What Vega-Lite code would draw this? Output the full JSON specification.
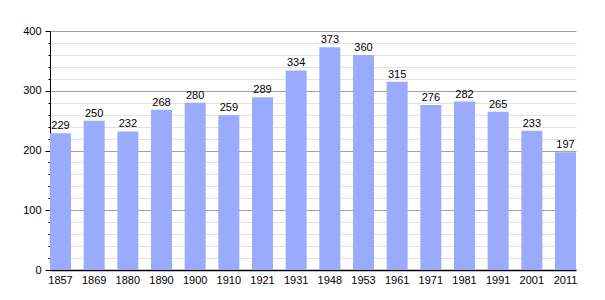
{
  "$schema": "https://vega.github.io/schema/vega-lite/v6.json",
  "autosize": "none",
  "width": 526,
  "height": 239,
  "padding": {"left": 50, "top": 31, "right": 29, "bottom": 30},
  "background": "white",
  "config": {
    "view": {"stroke": null},
    "font": "Liberation Sans",
    "axis": {"labelFont": "Liberation Sans", "labelFontSize": 11, "labelColor": "black"}
  },
  "data": {
    "values": [
      {"year": "1857", "pop": 229},
      {"year": "1869", "pop": 250},
      {"year": "1880", "pop": 232},
      {"year": "1890", "pop": 268},
      {"year": "1900", "pop": 280},
      {"year": "1910", "pop": 259},
      {"year": "1921", "pop": 289},
      {"year": "1931", "pop": 334},
      {"year": "1948", "pop": 373},
      {"year": "1953", "pop": 360},
      {"year": "1961", "pop": 315},
      {"year": "1971", "pop": 276},
      {"year": "1981", "pop": 282},
      {"year": "1991", "pop": 265},
      {"year": "2001", "pop": 233},
      {"year": "2011", "pop": 197}
    ]
  },
  "encoding": {
    "x": {
      "field": "year", "type": "ordinal", "title": null,
      "scale": {"paddingInner": 0.376, "paddingOuter": 0},
      "axis": {"labelAngle": 0, "ticks": false, "domainColor": "black", "domainWidth": 1.5, "labelPadding": 4}
    },
    "y": {
      "field": "pop", "type": "quantitative", "title": null,
      "scale": {"domain": [0, 400], "nice": false},
      "axis": {
        "values": [0,20,40,60,80,100,120,140,160,180,200,220,240,260,280,300,320,340,360,380,400],
        "labelExpr": "datum.value % 100 === 0 ? datum.label : ''",
        "grid": true,
        "gridColor": {"condition": {"test": "datum.value % 100 === 0", "value": "#a0a0a0"}, "value": "#e2e2e2"},
        "tickSize": {"condition": {"test": "datum.value % 100 === 0", "value": 5}, "value": 2},
        "tickColor": "black",
        "domainColor": "black",
        "labelPadding": 4
      }
    }
  },
  "layer": [
    {"mark": {"type": "bar", "color": "#9aabfd"}},
    {"mark": {"type": "text", "dy": -7, "fontSize": 11, "color": "black", "font": "Liberation Sans"},
     "encoding": {"text": {"field": "pop", "type": "quantitative"}}}
  ]
}
